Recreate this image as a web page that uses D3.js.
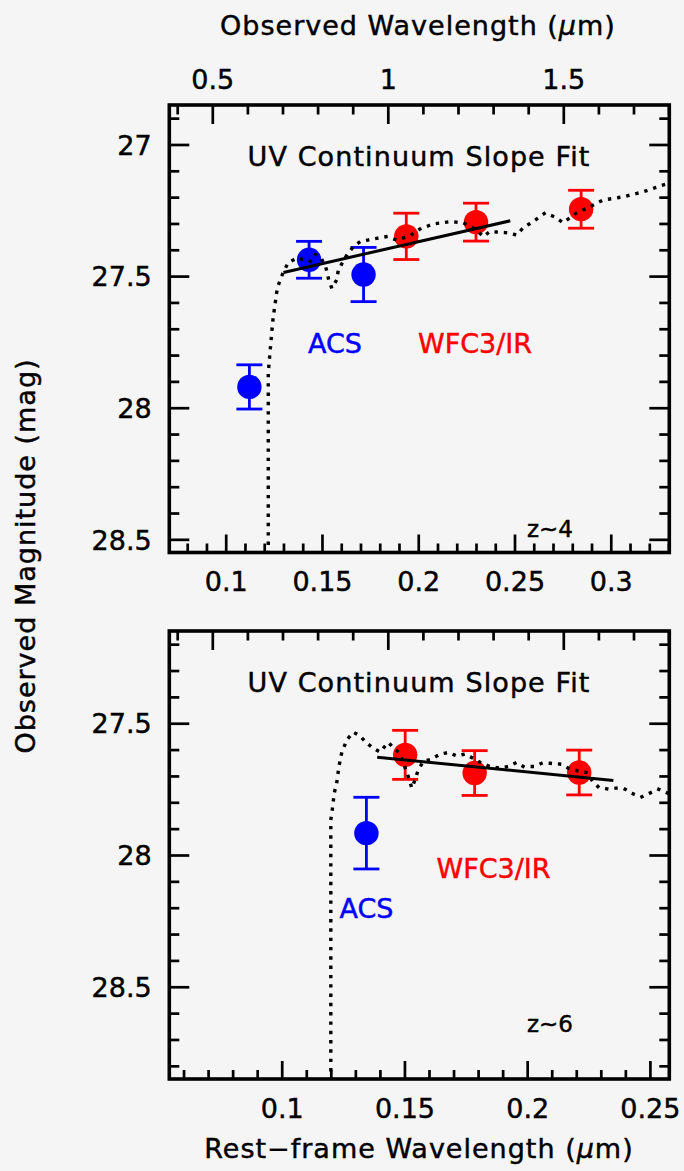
<!DOCTYPE html>
<html>
<head>
<meta charset="utf-8">
<script src="https://cdn.jsdelivr.net/npm/d3@7"></script>
<style>
  html, body { margin: 0; padding: 0; background: #f5f5f5; }
  svg { display: block; }
  text { font-family: "DejaVu Sans", sans-serif; fill: #000; }
</style>
</head>
<body>
<div id="chart"></div>
<script>
// ---------------- DATA ----------------
// Upper panel (z~4)
const z4Band = ["ACS", "ACS", "ACS", "WFC3/IR", "WFC3/IR", "WFC3/IR"];
const z4Wave = [0.1123, 0.1433, 0.1716, 0.1938, 0.2300, 0.2846];
const z4Mag  = [27.921, 27.438, 27.494, 27.349, 27.295, 27.246];
const z4Err  = [0.084, 0.070, 0.103, 0.088, 0.072, 0.072];
const z4FitWave = [0.130, 0.2478];
const z4FitMag  = [27.486, 27.290];
const z4SpecWave = [0.1221, 0.1221, 0.1230, 0.1239, 0.1247, 0.1256, 0.1268, 0.1286, 0.1303, 0.1325,
  0.1370, 0.1438, 0.1464, 0.1499, 0.1521, 0.1533, 0.1551, 0.1577, 0.1585, 0.1629, 0.1663, 0.1698,
  0.1765, 0.1836, 0.1888, 0.1957, 0.2009, 0.2077, 0.2165, 0.2233, 0.2304, 0.2337, 0.2373, 0.2460,
  0.2512, 0.2544, 0.2596, 0.2659, 0.2711, 0.2752, 0.2823, 0.2892, 0.2960, 0.3064, 0.3168, 0.3272, 0.3304];
const z4SpecMag = [28.55, 27.867, 27.791, 27.715, 27.654, 27.609, 27.546, 27.508, 27.479, 27.449,
  27.431, 27.445, 27.416, 27.436, 27.470, 27.508, 27.546, 27.514, 27.476, 27.420, 27.388, 27.369,
  27.359, 27.350, 27.363, 27.348, 27.321, 27.302, 27.293, 27.297, 27.325, 27.350, 27.331, 27.335,
  27.344, 27.317, 27.293, 27.260, 27.276, 27.297, 27.260, 27.237, 27.211, 27.199, 27.180, 27.154, 27.147];

// Lower panel (z~6)
const z6Band = ["ACS", "WFC3/IR", "WFC3/IR", "WFC3/IR"];
const z6Wave = [0.1345, 0.1503, 0.1786, 0.2212];
const z6Mag  = [27.917, 27.620, 27.689, 27.687];
const z6Err  = [0.136, 0.093, 0.085, 0.085];
const z6FitWave = [0.1389, 0.2351];
const z6FitMag  = [27.629, 27.717];
const z6SpecWave = [0.1200, 0.1200, 0.1206, 0.1214, 0.1224, 0.1233, 0.1244, 0.1265, 0.1292, 0.1319,
  0.1346, 0.1373, 0.1400, 0.1434, 0.1482, 0.1494, 0.1509, 0.1530, 0.1543, 0.1556, 0.1577, 0.1611,
  0.1645, 0.1679, 0.1713, 0.1747, 0.1780, 0.1815, 0.1848, 0.1889, 0.1923, 0.1957, 0.1984, 0.2025,
  0.2059, 0.2093, 0.2134, 0.2174, 0.2215, 0.2242, 0.2263, 0.2290, 0.2330, 0.2365, 0.2398, 0.2432,
  0.2466, 0.2500, 0.2534, 0.2579];
const z6SpecMag = [28.85, 27.866, 27.828, 27.765, 27.727, 27.664, 27.614, 27.563, 27.534, 27.548,
  27.575, 27.595, 27.609, 27.573, 27.616, 27.650, 27.683, 27.746, 27.715, 27.677, 27.645, 27.636,
  27.617, 27.611, 27.624, 27.617, 27.633, 27.652, 27.664, 27.670, 27.664, 27.649, 27.664, 27.664,
  27.652, 27.652, 27.655, 27.674, 27.683, 27.687, 27.715, 27.742, 27.750, 27.746, 27.750, 27.768,
  27.780, 27.765, 27.750, 27.768];

// Tick labels
const obsTicks   = [0.5, 1, 1.5];
const z4WaveTicks = [0.1, 0.15, 0.2, 0.25, 0.3];
const z4MagTicks  = [27, 27.5, 28, 28.5];
const z6WaveTicks = [0.1, 0.15, 0.2, 0.25];
const z6MagTicks  = [27.5, 28, 28.5];

const bandColor = { "ACS": "#0000ff", "WFC3/IR": "#ff0000" };

// ---------------- LAYOUT ----------------
const W = 684, H = 1171;
const X0 = 169.3, X1 = 669.3;
const svg = d3.select("#chart").append("svg").attr("width", W).attr("height", H);
svg.append("rect").attr("width", W).attr("height", H).attr("fill", "#f5f5f5");

const FS = 27;
const TXT_STROKE = 0.45;
const obsScale = d3.scaleLinear().domain([0.3775, 1.802]).range([X0, X1]);

function stepTicks(domain, step) {
  const lo = Math.min(...domain), hi = Math.max(...domain);
  const start = Math.ceil(lo / step - 1e-6), end = Math.floor(hi / step + 1e-6);
  return d3.range(start, end + 1).map(i => +(i * step).toFixed(4));
}

function heavy(sel, color) {
  return sel.style("fill", color).style("stroke", color).style("stroke-width", TXT_STROKE);
}

function drawPanel(cfg) {
  const g = svg.append("g");
  const x = d3.scaleLinear().domain(cfg.xDomain).range([X0, X1]);
  const y = d3.scaleLinear().domain(cfg.yDomain).range([cfg.top, cfg.bottom]);
  const clipId = "clip" + cfg.id;
  svg.append("clipPath").attr("id", clipId).append("rect")
    .attr("x", X0).attr("y", cfg.top).attr("width", X1 - X0).attr("height", cfg.bottom - cfg.top);

  const tickStyle = sel => {
    sel.select(".domain").remove();
    sel.selectAll(".tick line").attr("stroke", "#000").attr("stroke-width", 2.7);
    sel.selectAll(".tick text").attr("font-size", FS).attr("fill", "#000")
      .attr("font-family", "DejaVu Sans").call(s => heavy(s, "#000"));
  };

  // bottom axis (rest-frame wavelength)
  const bMinor = stepTicks(cfg.xDomain, 0.01).filter(v => !cfg.xTicks.some(t => Math.abs(t - v) < 1e-6));
  g.append("g").attr("transform", `translate(0,${cfg.bottom})`)
    .call(d3.axisBottom(x).tickValues(bMinor).tickSize(-9).tickFormat(""))
    .call(tickStyle);
  const bMajor = g.append("g").attr("transform", `translate(0,${cfg.bottom})`)
    .call(d3.axisBottom(x).tickValues(cfg.xTicks).tickSize(-18).tickPadding(0).tickFormat(d => String(d)))
    .call(tickStyle);
  bMajor.selectAll(".tick text").attr("y", 38.5).attr("dy", 0);

  // top axis (observed wavelength)
  const oMinor = stepTicks(obsScale.domain(), 0.1).filter(v => !obsTicks.some(t => Math.abs(t - v) < 1e-6));
  g.append("g").attr("transform", `translate(0,${cfg.top})`)
    .call(d3.axisTop(obsScale).tickValues(oMinor).tickSize(-9.5).tickFormat(""))
    .call(tickStyle);
  const oMajor = g.append("g").attr("transform", `translate(0,${cfg.top})`)
    .call(d3.axisTop(obsScale).tickValues(obsTicks).tickSize(-19).tickFormat(d => String(d)))
    .call(tickStyle);
  if (cfg.showObs) {
    oMajor.selectAll(".tick text").attr("y", 89 - cfg.top).attr("dy", 0);
  } else {
    oMajor.selectAll(".tick text").remove();
  }

  // left and right axes (magnitude)
  const yMinor = stepTicks(cfg.yDomain, 0.1).filter(v => !cfg.yTicks.some(t => Math.abs(t - v) < 1e-6));
  g.append("g").attr("transform", `translate(${X0},0)`)
    .call(d3.axisLeft(y).tickValues(yMinor).tickSize(-10).tickFormat(""))
    .call(tickStyle);
  const lMajor = g.append("g").attr("transform", `translate(${X0},0)`)
    .call(d3.axisLeft(y).tickValues(cfg.yTicks).tickSize(-20).tickFormat(d => String(d)))
    .call(tickStyle);
  lMajor.selectAll(".tick text").attr("x", -17.6).attr("dy", "0.36em").attr("text-anchor", "end");
  g.append("g").attr("transform", `translate(${X1},0)`)
    .call(d3.axisRight(y).tickValues(yMinor).tickSize(-10).tickFormat(""))
    .call(tickStyle);
  g.append("g").attr("transform", `translate(${X1},0)`)
    .call(d3.axisRight(y).tickValues(cfg.yTicks).tickSize(-20).tickFormat(""))
    .call(tickStyle);

  // frame
  g.append("rect").attr("x", X0).attr("y", cfg.top).attr("width", X1 - X0).attr("height", cfg.bottom - cfg.top)
    .attr("fill", "none").attr("stroke", "#000").attr("stroke-width", 3.6);

  // data points
  const pts = cfg.wave.map((w, i) => ({ w, m: cfg.mag[i], e: cfg.err[i], b: cfg.band[i] }));
  const pg = g.append("g");
  const capW = 13;
  pts.forEach(p => {
    const c = bandColor[p.b];
    const cx = x(p.w), yt = y(p.m - p.e), yb = y(p.m + p.e);
    pg.append("line").attr("x1", cx).attr("x2", cx).attr("y1", yt).attr("y2", yb)
      .attr("stroke", c).attr("stroke-width", 2.8);
    pg.append("line").attr("x1", cx - capW).attr("x2", cx + capW).attr("y1", yt).attr("y2", yt)
      .attr("stroke", c).attr("stroke-width", 2.8);
    pg.append("line").attr("x1", cx - capW).attr("x2", cx + capW).attr("y1", yb).attr("y2", yb)
      .attr("stroke", c).attr("stroke-width", 2.8);
  });
  pg.selectAll("circle").data(pts).enter().append("circle")
    .attr("cx", d => x(d.w)).attr("cy", d => y(d.m)).attr("r", 12.2)
    .attr("fill", d => bandColor[d.b]);

  // model spectrum (dotted)
  const spec = cfg.specWave.map((w, i) => [w, cfg.specMag[i]]);
  g.append("path").datum(spec)
    .attr("clip-path", `url(#${clipId})`)
    .attr("d", d3.line().x(d => x(d[0])).y(d => y(d[1])))
    .attr("fill", "none").attr("stroke", "#000").attr("stroke-width", 3.4)
    .attr("stroke-linecap", "square").attr("stroke-dasharray", "0.01 9.3");

  // fit line
  const fit = cfg.fitWave.map((w, i) => [w, cfg.fitMag[i]]);
  g.append("path").datum(fit)
    .attr("d", d3.line().x(d => x(d[0])).y(d => y(d[1])))
    .attr("fill", "none").attr("stroke", "#000").attr("stroke-width", 3);

  // annotations
  heavy(g.append("text").attr("x", 419).attr("y", cfg.top + 61).attr("text-anchor", "middle")
    .attr("font-size", FS).attr("letter-spacing", 1.1).text("UV Continuum Slope Fit"), "#000");
  heavy(g.append("text").attr("x", cfg.acs[0]).attr("y", cfg.acs[1]).attr("text-anchor", "middle")
    .attr("font-size", FS).text("ACS"), "#0000ff");
  heavy(g.append("text").attr("x", cfg.wfc[0]).attr("y", cfg.wfc[1]).attr("text-anchor", "middle")
    .attr("font-size", FS).text("WFC3/IR"), "#ff0000");
  heavy(g.append("text").attr("x", 550).attr("y", cfg.zlab[1]).attr("text-anchor", "middle")
    .attr("font-size", 23).text(cfg.zText), "#000");
}

drawPanel({
  id: "top", top: 105, bottom: 552.5,
  xDomain: [0.0707, 0.3304], yDomain: [26.85, 28.55],
  xTicks: z4WaveTicks, yTicks: z4MagTicks, showObs: true,
  wave: z4Wave, mag: z4Mag, err: z4Err, band: z4Band,
  fitWave: z4FitWave, fitMag: z4FitMag, specWave: z4SpecWave, specMag: z4SpecMag,
  acs: [335, 353], wfc: [475, 353], zlab: [550, 537], zText: "z~4"
});
drawPanel({
  id: "bot", top: 631, bottom: 1079,
  xDomain: [0.0542, 0.2579], yDomain: [27.15, 28.85],
  xTicks: z6WaveTicks, yTicks: z6MagTicks, showObs: false,
  wave: z6Wave, mag: z6Mag, err: z6Err, band: z6Band,
  fitWave: z6FitWave, fitMag: z6FitMag, specWave: z6SpecWave, specMag: z6SpecMag,
  acs: [366.5, 918], wfc: [493.5, 878], zlab: [550, 1032], zText: "z~6"
});

// axis titles
const t1 = heavy(svg.append("text").attr("x", 418).attr("y", 35).attr("text-anchor", "middle")
  .attr("font-size", FS).attr("letter-spacing", 1), "#000");
t1.append("tspan").text("Observed Wavelength (");
t1.append("tspan").attr("font-style", "italic").text("μ");
t1.append("tspan").text("m)");

const t2 = heavy(svg.append("text").attr("x", 419).attr("y", 1158).attr("text-anchor", "middle")
  .attr("font-size", FS).attr("letter-spacing", 1), "#000");
t2.append("tspan").text("Rest\u2212frame Wavelength (");
t2.append("tspan").attr("font-style", "italic").text("μ");
t2.append("tspan").text("m)");

heavy(svg.append("text").attr("transform", "translate(35,556) rotate(-90)").attr("text-anchor", "middle")
  .attr("font-size", FS).attr("letter-spacing", 1).text("Observed Magnitude (mag)"), "#000");
</script>
</body>
</html>
